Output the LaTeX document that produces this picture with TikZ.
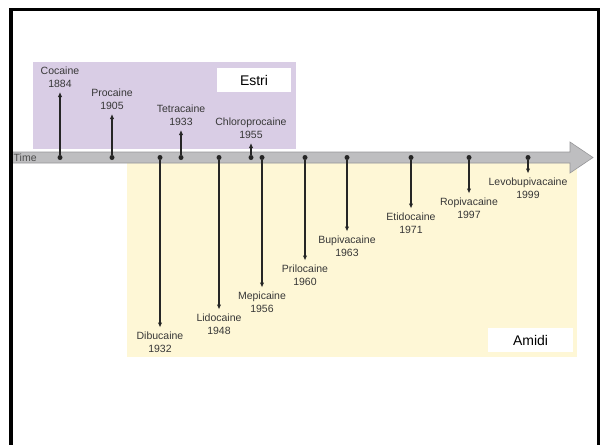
\documentclass[tikz,border=0pt]{standalone}
\usepackage{fontspec}
\setmainfont{Liberation Sans}
\usetikzlibrary{arrows.meta,positioning}

\definecolor{estri}{RGB}{217,205,229}
\definecolor{amidi}{RGB}{254,247,214}
\definecolor{axisfill}{RGB}{190,190,192}
\definecolor{axisline}{RGB}{150,150,152}
\definecolor{ink}{RGB}{55,55,55}

\begin{document}
\begin{tikzpicture}[x=1pt, y=-1pt,
    drug/.style = {text=ink, font=\fontsize{10.5}{13}\selectfont, align=center, inner sep=0pt, outer sep=4.5pt},
    evt/.style  = {-{Latex[length=5pt,width=4.5pt]}, line width=1.1pt, draw=black!85},
    dot/.style  = {circle, fill=black!85, inner sep=0pt, minimum size=5pt},
    tag/.style  = {fill=white, inner sep=0pt, font=\fontsize{14}{14}\selectfont}]
    \useasboundingbox (0,0) rectangle (606,445);

    % the two groups
    \fill[estri] (33,62) rectangle (296,149);
    \fill[amidi] (127,163) rectangle (577,357);
    \node[tag, minimum width=74pt, minimum height=24pt] (estri) at (254,80) {Estri};
    \node[tag, minimum width=85pt, minimum height=24pt] (amidi) at (530.5,340) {Amidi};

    % time axis
    \draw[axisline, fill=axisfill, line width=0.6pt] (12,152) -- (570,152) -- (570,142) -- (593,157.5) -- (570,173) -- (570,163) -- (12,163);
    \node[text=black!70, font=\fontsize{10.5}{11}\selectfont, anchor=west, inner sep=0pt] (time) at (13.5,157.5) {Time};

    % esters, above the axis
    \node[drug, anchor=south] (cocaine) at (60,92) {Cocaine\\1884};
    \node[drug, anchor=south] (procaine) at (112,114) {Procaine\\1905};
    \node[drug, anchor=south] (tetracaine) at (181,130) {Tetracaine\\1933};
    \node[drug, anchor=south] (chloroprocaine) at (251,143) {Chloroprocaine\\1955};

    % amides, below the axis
    \node[drug, anchor=north] (dibucaine) at (160,327.5) {Dibucaine\\1932};
    \node[drug, anchor=north] (lidocaine) at (219,309.5) {Lidocaine\\1948};
    \node[drug, anchor=north] (mepicaine) at (262,287.5) {Mepicaine\\1956};
    \node[drug, anchor=north] (prilocaine) at (305,260.5) {Prilocaine\\1960};
    \node[drug, anchor=north] (bupivacaine) at (347,231.5) {Bupivacaine\\1963};
    \node[drug, anchor=north] (etidocaine) at (411,208.5) {Etidocaine\\1971};
    \node[drug, anchor=north] (ropivacaine) at (469,193.5) {Ropivacaine\\1997};
    \node[drug, anchor=north] (levobupivacaine) at (528,173.5) {Levobupivacaine\\1999};

    % dates on the axis
    \node[dot] (t1884) at (60,157.5) {};
    \node[dot] (t1905) at (112,157.5) {};
    \node[dot] (t1932) at (160,157.5) {};
    \node[dot] (t1933) at (181,157.5) {};
    \node[dot] (t1948) at (219,157.5) {};
    \node[dot] (t1955) at (251,157.5) {};
    \node[dot] (t1956) at (262,157.5) {};
    \node[dot] (t1960) at (305,157.5) {};
    \node[dot] (t1963) at (347,157.5) {};
    \node[dot] (t1971) at (411,157.5) {};
    \node[dot] (t1997) at (469,157.5) {};
    \node[dot] (t1999) at (528,157.5) {};

    \draw[evt] (t1884) -- (cocaine);
    \draw[evt] (t1905) -- (procaine);
    \draw[evt] (t1933) -- (tetracaine);
    \draw[evt] (t1955) -- (chloroprocaine);
    \draw[evt] (t1932) -- (dibucaine);
    \draw[evt] (t1948) -- (lidocaine);
    \draw[evt] (t1956) -- (mepicaine);
    \draw[evt] (t1960) -- (prilocaine);
    \draw[evt] (t1963) -- (bupivacaine);
    \draw[evt] (t1971) -- (etidocaine);
    \draw[evt] (t1997) -- (ropivacaine);
    \draw[evt] (t1999) -- (levobupivacaine);

    % frame, open at the bottom
    \draw[line width=3.5pt] (11,445) -- (11,9.5) -- (598.5,9.5) -- (598.5,445);
\end{tikzpicture}
\end{document}
